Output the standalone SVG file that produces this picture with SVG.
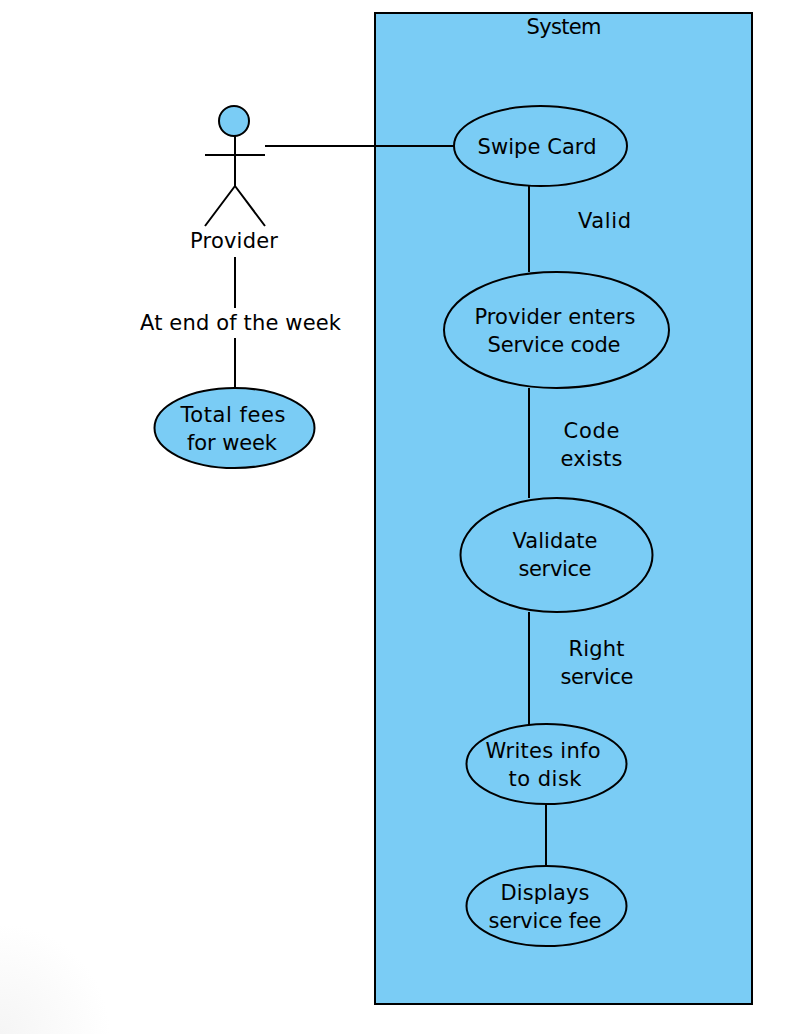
<svg xmlns="http://www.w3.org/2000/svg" width="806" height="1034" viewBox="0 0 806 1034">
<defs><radialGradient id="corner" gradientUnits="userSpaceOnUse" cx="0" cy="1034" r="110"><stop offset="0" stop-color="#f5f5f5"/><stop offset="0.6" stop-color="#fbfbfb"/><stop offset="1" stop-color="#fff"/></radialGradient></defs>
<style>
.s{fill:#7accf5;stroke:#000;stroke-width:2}
.l{fill:none;stroke:#000;stroke-width:2}
text{font-family:"DejaVu Sans",sans-serif;font-size:21px;fill:#000;text-anchor:middle}
</style>
<rect width="806" height="1034" fill="#fff"/>
<rect y="924" width="110" height="110" fill="url(#corner)"/>
<g id="system"><rect class="s" x="375" y="13" width="377" height="991"/><text x="564" y="34" textLength="75">System</text></g>
<g id="connectors">
<path class="l" d="M265 146H454M529 186V272M529 388V498M529 612V724M546 804V866M235 257V308M235 338V388"/>
</g>
<g id="actor"><circle class="s" cx="234" cy="121" r="15"/><path class="l" d="M235 136V186M205 155H265M235 186L205 226M235 186L265 226"/><text x="234" y="248" textLength="88">Provider</text></g>
<g id="swipe"><ellipse class="s" cx="540.500" cy="146" rx="86.500" ry="40"/><text x="537" y="154" textLength="119">Swipe Card</text></g>
<g id="enter"><ellipse class="s" cx="556.500" cy="330" rx="112.500" ry="58"/><text x="555" y="324" textLength="161">Provider enters</text><text x="554" y="352" textLength="133">Service code</text></g>
<g id="validate"><ellipse class="s" cx="556.500" cy="555" rx="96" ry="57"/><text x="555" y="548" textLength="85">Validate</text><text x="555" y="576" textLength="73">service</text></g>
<g id="writes"><ellipse class="s" cx="546.500" cy="764" rx="80" ry="40"/><text x="543" y="758" textLength="115">Writes info</text><text x="545" y="786" textLength="73">to disk</text></g>
<g id="displays"><ellipse class="s" cx="546.500" cy="906" rx="80" ry="40"/><text x="545" y="900" textLength="89">Displays</text><text x="545" y="928" textLength="113">service fee</text></g>
<g id="fees"><ellipse class="s" cx="234.500" cy="428" rx="80" ry="40"/><text x="233" y="422" textLength="105">Total fees</text><text x="232" y="450" textLength="90">for week</text></g>
<g id="labels">
<text x="604.500" y="228" textLength="53">Valid</text>
<text x="591.500" y="438" textLength="56">Code</text><text x="591.500" y="466" textLength="62">exists</text>
<text x="596.500" y="656" textLength="56">Right</text><text x="597" y="684" textLength="73">service</text>
<text x="240.500" y="330" textLength="201">At end of the week</text>
</g>
</svg>
